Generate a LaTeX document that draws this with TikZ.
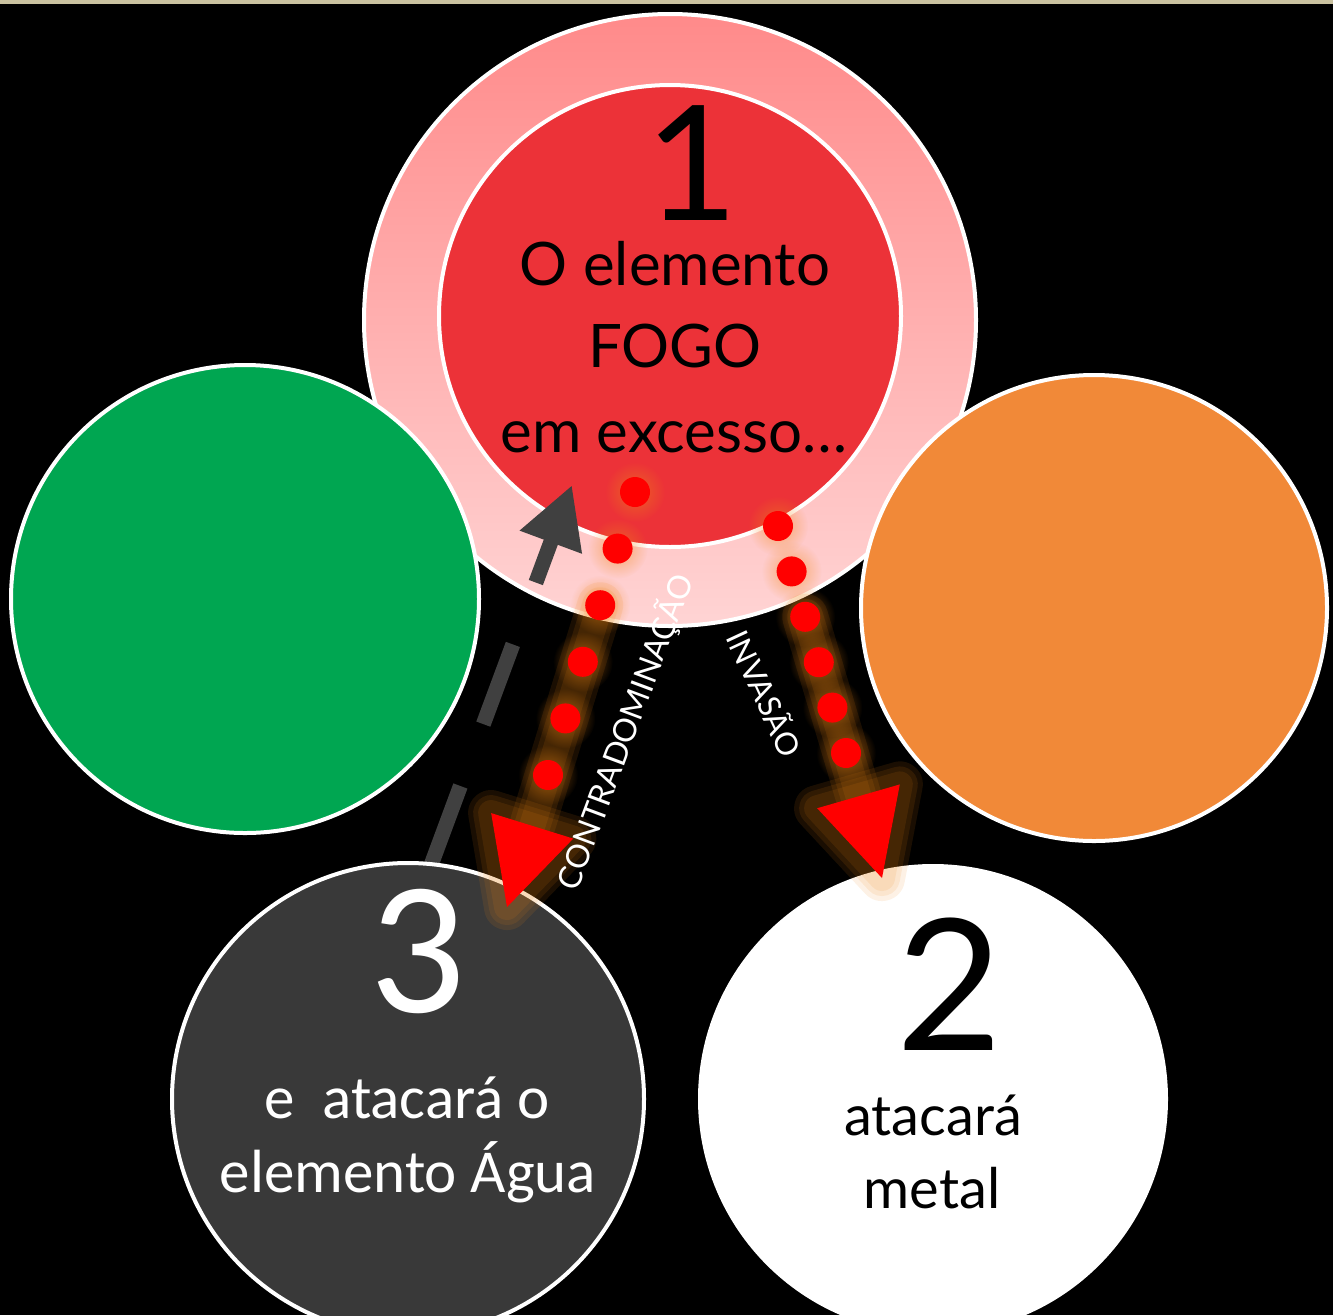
\documentclass[tikz,border=0pt]{standalone}
\usepackage{fontspec}
\setmainfont{Lato}
\newfontfamily\calib{Carlito}
\usetikzlibrary{calc,arrows.meta,fadings}
\definecolor{strip}{RGB}{202,194,160}
\definecolor{fogo}{RGB}{236,50,56}
\definecolor{pinkA}{RGB}{255,138,138}
\definecolor{pinkB}{RGB}{255,212,212}
\definecolor{verde}{RGB}{0,166,81}
\definecolor{laranja}{RGB}{241,137,56}
\definecolor{agua}{RGB}{57,57,57}
\definecolor{seta}{RGB}{64,64,64}
\definecolor{brilho}{RGB}{240,135,20}
\tikzfading[name=glowfade, inner color=transparent!0, outer color=transparent!100]
\tikzset{
  elem/.style={circle, draw=white, line width=4pt, inner sep=0pt},
  big/.style={anchor=base, inner sep=0pt, font=\fontsize{#1}{#1}\selectfont},
  lbl/.style={white, inner sep=0pt, font=\fontsize{#1}{#1}\selectfont},
  halo/.style={brilho, opacity=0.11, line cap=round, line join=round},
  dot/.style={red}
}
\begin{document}
\begin{tikzpicture}[x=1pt,y=-1pt]
\fill[black] (0,0) rectangle (1333,1315);
\useasboundingbox (0,0) rectangle (1333,1315);
\clip (0,0) rectangle (1333,1315);
\fill[strip] (0,0) rectangle (1333,4);

% main circles
\node[elem, top color=pinkA, bottom color=pinkB, minimum size=612pt] (anel) at (670,320) {};
\node[elem, fill=fogo, minimum size=462pt] (fogo) at (670,316) {};
\node[elem, fill=verde, minimum size=468pt] (madeira) at (245,599) {};
\node[elem, fill=laranja, minimum size=466pt] (terra) at (1094,608) {};

% text of circle 1
\node[big=160] (n1) at (692,220) {1};
\node[big=60] (t1a) at (675,285) {O elemento};
\node[big=60] (t1b) at (675,367) {FOGO};
\node[big=60] (t1c) at (674,452) {em excesso\dots};

% gray dashed arrow (from water back to fire)
\coordinate (gs) at (427,876);
\coordinate (gt) at (572,485);
\draw[seta, line width=15pt, dash pattern=on 96pt off 66pt on 85pt off 66pt,
      -{Triangle[length=61pt,width=62pt]}] (gs) -- (gt);

% bottom circles
\node[elem, fill=agua, minimum size=472pt] (agua) at (408,1099) {};
\node[elem, fill=white, minimum size=466pt] (metal) at (933,1099) {};

\node[big=190, white, font=\calib\fontsize{190}{190}\selectfont] (n3) at (418,1012) {3};
\node[big=61, white, font=\calib\fontsize{61}{61}\selectfont] (t3a) at (407,1118) {e\ \ atacará o};
\node[big=61, white, font=\calib\fontsize{61}{61}\selectfont] (t3b) at (408,1192) {elemento Água};

\node[big=183] (n2) at (950,1050) {2};
\node[big=56] (t2a) at (933,1135) {atacará};
\node[big=56] (t2b) at (932,1208) {metal};

% red dotted arrows
\coordinate (r1a) at (635,492);
\coordinate (r1b) at (548,775);
\coordinate (r1t) at (507,907);
\coordinate (r2a) at (778,526);
\coordinate (r2b) at (846,753);
\coordinate (r2t) at (882,878);

\foreach \s in {1,2}{
  \coordinate (m\s) at ($(r\s t)!85pt!(r\s b)$);
  \coordinate (l\s) at ($(m\s)!43pt!90:(r\s t)$);
  \coordinate (k\s) at ($(m\s)!43pt!-90:(r\s t)$);
  \coordinate (h\s) at ($(r\s a)!2/5!(r\s b)$);
  \foreach \w in {46,36,26}{
    \draw[halo, line width=\w pt] (h\s) -- (m\s);
    \draw[halo, line width=\w pt] (r\s t) -- (l\s) -- (k\s) -- cycle;
  }
  \foreach \i in {0,...,5}{
    \fill[brilho, path fading=glowfade, fill opacity=0.55] ($(r\s a)!\i/5!(r\s b)$) circle (30);
  }
}
\foreach \s in {1,2}{
  \foreach \i in {0,...,5}{
    \fill[dot] ($(r\s a)!\i/5!(r\s b)$) circle (15);
  }
  \fill[red] (r\s t) -- (l\s) -- (k\s) -- cycle;
}

% labels
\node[lbl=32, rotate=69.5] (contra) at (625,732) {CONTRADOMINAÇÃO};
\node[lbl=31, rotate=-65] (inv) at (766,693) {INVASÃO};
\end{tikzpicture}
\end{document}
